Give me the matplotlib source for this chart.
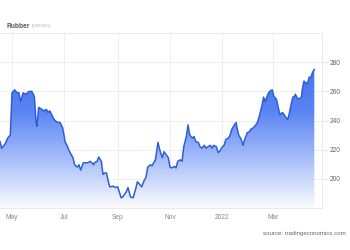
import numpy as np
import pandas as pd
import matplotlib
matplotlib.use("Agg")
import matplotlib.pyplot as plt
import matplotlib.dates as mdates
from matplotlib.colors import LinearSegmentedColormap
from matplotlib.patches import Polygon

plt.rcParams['font.family'] = ['Liberation Sans', 'DejaVu Sans']

# days after 2021-04-17 and price in US cents per kg
days = [0, 2, 6, 9, 12, 14, 17, 20, 22, 24, 27, 30, 34, 37, 40, 42, 43, 45, 49, 51, 54, 56, 58,
        61, 63, 66, 70, 73, 76, 78, 80, 83, 85, 87, 90, 92, 94, 97, 99, 102, 105, 107, 109, 110,
        113, 115, 118, 120, 122, 124, 127, 128, 132, 134, 137, 139, 141, 143, 147, 149, 152,
        155, 158, 160, 163, 165, 168, 170, 172, 175, 177, 179, 181, 184, 186, 189, 191, 193,
        196, 198, 200, 203, 205, 207, 210, 212, 214, 217, 219, 221, 224, 226, 228, 231, 233,
        235, 238, 240, 242, 245, 247, 249, 252, 254, 256, 259, 261, 263, 266, 268, 270, 273,
        275, 276, 278, 281, 283, 285, 288, 290, 292, 295, 298, 300, 302, 305, 307, 309, 312,
        314, 317, 319, 322, 324, 326, 329, 331, 333, 335, 337, 339, 341, 343, 344, 347, 351,
        352, 354, 356, 358, 360, 362, 364, 366, 367]
price = [225.5, 221, 224, 228, 230, 259, 261, 259, 259, 253, 259, 258, 260, 260, 256.5, 238.6,
         236, 249, 247.6, 246.6, 247.6, 245.5, 246.6, 243, 240.7, 239, 238.6, 235, 225, 223,
         220, 216.5, 214.5, 209.6, 208, 209.6, 206, 211, 211, 211, 212, 211, 209.6, 211, 212,
         215, 212, 203, 204, 204, 196, 194.5, 195, 194, 194.5, 191, 187, 187.6, 191, 194, 187.6,
         187, 193, 198, 196, 194.5, 199, 201, 208, 209.6, 209, 211, 213, 225, 220, 214.5,
         218.6, 217, 214.5, 208, 207.5, 208.5, 207.5, 212, 213, 212, 222, 229, 237, 230, 228,
         229, 225.5, 225, 222, 221, 223, 221, 222, 223, 221, 223, 222, 218, 219, 222, 223, 227,
         228, 230, 234, 237, 238.6, 235, 230, 227, 223, 227, 231.7, 232, 234, 235, 237, 239,
         243, 250, 256, 253, 258, 260, 261, 256.5, 254.5, 249, 244, 245.5, 244, 242, 240.7, 245,
         251, 256, 256.5, 258, 254.5, 256, 261, 267, 266, 265, 269.7, 269.5, 273, 275]

start = pd.Timestamp("2021-04-17")
n = min(len(days), len(price))
dates = start + pd.to_timedelta(days[:n], unit="D")
vals = np.array(price[:n])

fig = plt.figure(figsize=(3.5, 2.5), dpi=100)
ax = fig.add_axes([0.0, 0.168, 0.92, 0.70])

x = mdates.date2num(dates)
ymin, ymax = 180, 300
xmin = mdates.date2num(pd.Timestamp("2021-04-17"))
xmax = mdates.date2num(pd.Timestamp("2022-04-27"))

# gradient fill under the line
cmap = LinearSegmentedColormap.from_list("g", ["#fbfcff", "#a7befa", "#5a84f3", "#4473f1"])
grad = np.linspace(0, 1, 256).reshape(-1, 1)
im = ax.imshow(grad, extent=[xmin, xmax, ymin, 280], origin="lower", aspect="auto",
               cmap=cmap, zorder=1)
verts = np.vstack([np.column_stack([x, vals]), [[x[-1], ymin], [x[0], ymin]]])
poly = Polygon(verts, closed=True, facecolor="none", edgecolor="none")
ax.add_patch(poly)
im.set_clip_path(poly)

ax.plot(x, vals, color="#2f5fd6", lw=1.1, zorder=3)

ax.set_xlim(xmin, xmax)
ax.set_ylim(ymin, ymax)

ax.xaxis.set_major_locator(mdates.MonthLocator(bymonth=[1, 3, 5, 7, 9, 11]))
def fmt(v, pos=None):
    d = mdates.num2date(v)
    return str(d.year) if d.month == 1 else d.strftime("%b")
ax.xaxis.set_major_formatter(plt.FuncFormatter(fmt))

ax.set_yticks([200, 220, 240, 260, 280])
ax.yaxis.tick_right()
ax.grid(True, color="#ececec", lw=0.6, zorder=0)
ax.set_axisbelow(True)
ax.spines["left"].set_visible(False)
for s in ["top", "bottom", "right"]:
    ax.spines[s].set_color("#e6e6e6")
    ax.spines[s].set_linewidth(0.6)
ax.tick_params(axis="y", length=4, color="#e6e6e6", labelsize=4.8, labelcolor="#666666", pad=1.5)
ax.tick_params(axis="x", length=0, labelsize=4.8, labelcolor="#888888", pad=4)

fig.text(0.018, 0.89, "Rubber", fontsize=4.8, color="#555555", fontweight="bold")
fig.text(0.092, 0.89, "(USC/KG)", fontsize=3.2, color="#aaaaaa")
fig.text(0.989, 0.062, "source: tradingeconomics.com", fontsize=4.4, color="#666666", ha="right")

fig.savefig("out.png", dpi=100)
